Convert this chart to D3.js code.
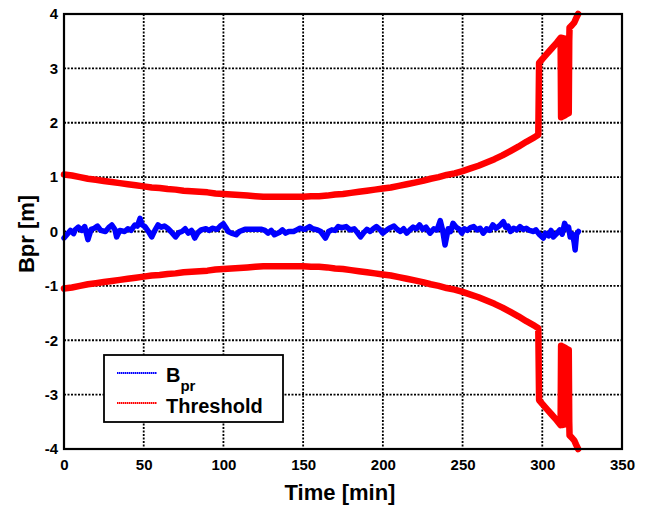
<!DOCTYPE html>
<html><head><meta charset="utf-8">
<script src="https://cdn.jsdelivr.net/npm/d3@7"></script>
<style>body{margin:0;background:#fff}svg{display:block}text{font-family:"Liberation Sans",Arial,sans-serif;font-weight:bold}</style>
</head><body><svg id="c" width="648" height="506"></svg>
<script>
// ---- data ----
const xTicks = [0, 50, 100, 150, 200, 250, 300, 350];
const yTicks = [-4, -3, -2, -1, 0, 1, 2, 3, 4];
const bprTime = [0,2,4,6,7,9,11,13,15,17,19,21,23,26,28,30,32,33,35,38,40,42,44.5,46,47.7,49,50.8,53,55,57,59,61,63,65,67,70,72,74,76,78,80,82,84,86,89,91,93,96,98,100,102,103,105,108,110,113.5,118,124,126,128,130,132,135,137,139,141,144,146,148,151,154,156,159,161,164,166,168,170,172,174,177,179.5,182,184,186,188,190,192,194,196,198,200,202,204,207,209,211,213,215,217,219,221,223,225,227,229.6,232,234,236,237.5,239,241,242.5,244,246,248,249.5,251,253,255,257,259,261,263,265,267,269,271,273,275.6,277,278.5,280,282,284,286,288,290,292,294.5,296,298,300.6,302,304,305.5,307,309,311,312.5,314,315.5,316.5,317.5,319,320,320.6,321.5,322.7];
const bprValue = [-0.12,-0.05,0.02,-0.04,0.03,0.08,0.02,0.09,-0.15,0.04,0.06,0.10,0.02,0.00,0.07,0.12,0.03,-0.10,0.02,0.00,0.05,0.02,0.12,0.10,0.24,0.12,0.09,0.00,-0.10,0.02,0.12,0.08,0.10,0.06,0.00,-0.10,-0.02,0.00,0.05,-0.03,0.02,-0.12,-0.02,0.03,0.05,0.02,0.06,0.04,0.10,0.14,0.05,0.00,-0.03,-0.06,0.00,0.04,0.04,0.04,0.02,-0.03,0.02,-0.06,-0.02,0.03,-0.03,0.00,0.00,0.03,0.06,0.04,0.09,0.05,0.03,0.00,-0.12,0.00,0.03,0.02,0.09,0.07,0.09,0.03,0.05,-0.02,-0.10,-0.02,0.04,0.00,0.05,0.09,0.04,-0.03,0.02,0.06,0.10,0.04,0.00,0.05,-0.03,0.03,0.08,0.05,0.12,0.04,0.08,-0.03,0.05,0.03,0.20,0.02,-0.25,0.05,0.00,0.15,0.08,0.04,-0.03,0.05,0.02,0.07,0.09,0.03,0.06,-0.03,0.05,0.02,0.12,0.06,0.10,0.18,0.08,0.10,0.00,0.06,0.03,0.09,0.04,0.06,0.02,0.00,0.03,-0.05,-0.12,-0.03,-0.08,0.02,-0.10,-0.04,0.03,-0.05,0.15,0.05,0.08,-0.10,-0.05,-0.20,-0.34,-0.05,0.00];
const thrTime = [0,5,10,15,20,25,30,35,40,45,50,55,60,65,70,75,80,85,90,95,100,105,110,115,120,125,130,140,150,155,160,165,170,175,180,185,190,195,200,205,210,215,220,225,230,235,240,245,250,255,260,265,270,275,280,285,290,295,297.5,298,300,303,306,309,311.5,311.8,312.1,312.4,312.7,313,313.3,313.6,313.9,314.2,314.5,314.8,315.1,315.4,315.7,316,316.3,316.6,316.9,317.1,318.5,320,321.2,322.5];
const thrValue = [1.05,1.03,1.00,0.97,0.95,0.93,0.91,0.89,0.87,0.85,0.83,0.81,0.80,0.78,0.77,0.75,0.74,0.73,0.72,0.70,0.69,0.68,0.67,0.66,0.65,0.64,0.64,0.64,0.64,0.65,0.65,0.66,0.68,0.69,0.71,0.73,0.75,0.77,0.79,0.81,0.84,0.87,0.90,0.93,0.97,1.00,1.04,1.07,1.11,1.16,1.21,1.27,1.33,1.40,1.48,1.56,1.65,1.73,1.78,3.10,3.17,3.27,3.37,3.47,3.56,2.10,3.56,2.12,3.56,2.12,3.55,2.13,3.55,2.14,3.54,2.15,3.54,2.16,3.53,2.17,3.53,2.18,3.50,3.75,3.79,3.84,3.92,4.00];
const seriesNames = ["B", "Threshold"];
const seriesColors = ["#0000ff", "#ff0000"];

// ---- chart ----
const svg = d3.select("#c");
const x = d3.scaleLinear().domain([0, 350]).range([64, 622]);
const y = d3.scaleLinear().domain([-4, 4]).range([449, 14]);

// grid
svg.append("g").selectAll("line").data(xTicks.slice(1, -1)).join("line")
  .attr("x1", d => x(d)).attr("x2", d => x(d)).attr("y1", y(4)).attr("y2", y(-4))
  .attr("stroke", "#000").attr("stroke-width", 1.8).attr("stroke-dasharray", "2,1.5");
svg.append("g").selectAll("line").data(yTicks.slice(1, -1)).join("line")
  .attr("y1", d => y(d)).attr("y2", d => y(d)).attr("x1", x(0)).attr("x2", x(350))
  .attr("stroke", "#000").attr("stroke-width", 1.8).attr("stroke-dasharray", "2,1.5");

// axes with d3
const fmt = d => String(d);
const xAxis = d3.axisBottom(x).tickValues(xTicks).tickFormat(fmt).tickSize(0).tickPadding(10);
const gx = svg.append("g").attr("transform", `translate(0,${y(-4)})`).call(xAxis);
gx.select(".domain").remove();
gx.selectAll("text").attr("font-size", 15).attr("fill", "#000")
  .style("font-family", "'Liberation Sans',Arial,sans-serif").style("font-weight", "bold");
const yAxis = d3.axisLeft(y).tickValues(yTicks).tickFormat(fmt).tickSize(0).tickPadding(6);
const gy = svg.append("g").attr("transform", `translate(${x(0)},0)`).call(yAxis);
gy.select(".domain").remove();
gy.selectAll("text").attr("font-size", 15).attr("fill", "#000")
  .style("font-family", "'Liberation Sans',Arial,sans-serif").style("font-weight", "bold");

// series
const bpr = bprTime.map((t, i) => [t, bprValue[i]]);
const thrUp = thrTime.map((t, i) => [t, thrValue[i]]);
const thrDn = thrTime.map((t, i) => [t, -thrValue[i]]);
const line = d3.line().x(d => x(d[0])).y(d => y(d[1]));
svg.append("path").attr("d", line(bpr)).attr("fill", "none").attr("stroke", seriesColors[0])
  .attr("stroke-width", 5.5).attr("stroke-linejoin", "round").attr("stroke-linecap", "round");
[thrUp, thrDn].forEach(s => svg.append("path").attr("d", line(s)).attr("fill", "none")
  .attr("stroke", seriesColors[1]).attr("stroke-width", 6.5)
  .attr("stroke-linejoin", "round").attr("stroke-linecap", "round"));

// frame
svg.append("rect").attr("x", x(0)).attr("y", y(4)).attr("width", x(350) - x(0)).attr("height", y(-4) - y(4))
  .attr("fill", "none").attr("stroke", "#000").attr("stroke-width", 2.2);

// axis titles
svg.append("text").attr("x", 340).attr("y", 500).attr("text-anchor", "middle")
  .attr("font-size", 22).text("Time [min]");
svg.append("text").attr("transform", "translate(34,234) rotate(-90)").attr("text-anchor", "middle")
  .attr("font-size", 22).text("Bpr [m]");

// legend
const lg = svg.append("g");
lg.append("rect").attr("x", 104).attr("y", 355).attr("width", 179).attr("height", 67)
  .attr("fill", "#fff").attr("stroke", "#000").attr("stroke-width", 1.8);
[373, 403].forEach((ly, i) => lg.append("line").attr("x1", 117).attr("x2", 157)
  .attr("y1", ly).attr("y2", ly).attr("stroke", seriesColors[i]).attr("stroke-width", 2)
  .attr("stroke-dasharray", "1.5,0.5"));
const t1 = lg.append("text").attr("x", 166).attr("y", 382).attr("font-size", 20);
t1.append("tspan").text(seriesNames[0]);
t1.append("tspan").attr("font-size", 15).attr("dy", 9).text("pr");
lg.append("text").attr("x", 166).attr("y", 413).attr("font-size", 20).text(seriesNames[1]);
</script></body></html>
